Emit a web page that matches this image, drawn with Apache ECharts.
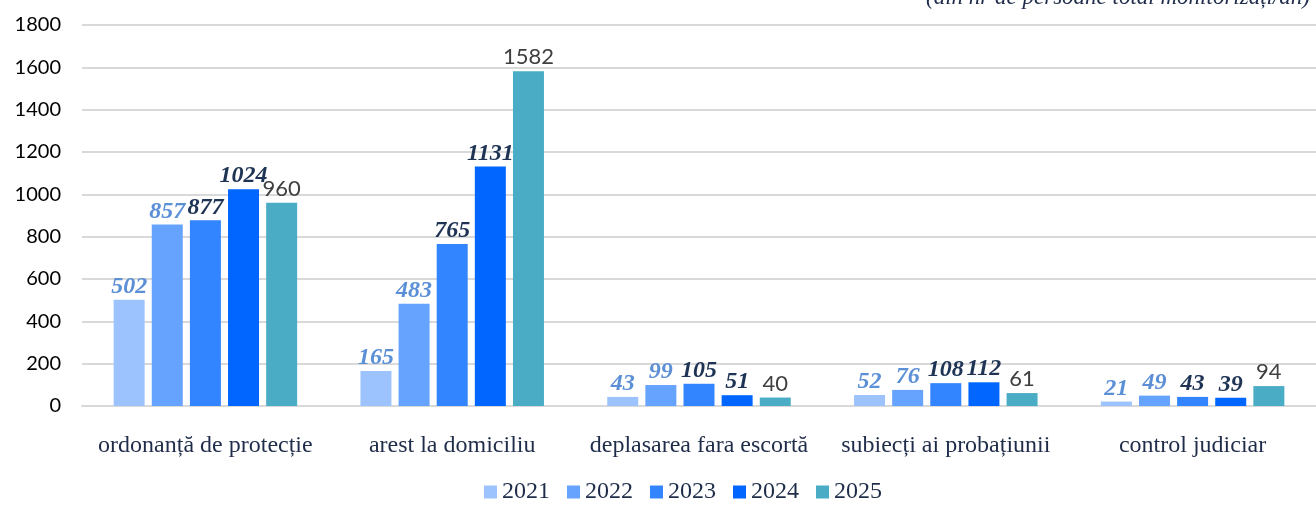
<!DOCTYPE html>
<html><head><meta charset="utf-8">
<script src="https://cdn.jsdelivr.net/npm/echarts@6/dist/echarts.min.js"></script>
<style>html,body{margin:0;padding:0;background:#fff}#c{width:1316px;height:505px}</style>
</head><body><div id="c"></div>
<script>
const categories = ['ordonanță de protecție','arest la domiciliu','deplasarea fara escortă','subiecți ai probațiunii','control judiciar'];
const years = ['2021','2022','2023','2024','2025'];
const v2021 = [502,165,43,52,21];
const v2022 = [857,483,99,76,49];
const v2023 = [877,765,105,108,43];
const v2024 = [1024,1131,51,112,39];
const v2025 = [960,1582,40,61,94];
const yTicks = [0,200,400,600,800,1000,1200,1400,1600,1800];

const colors = ['#9DC3FF','#66A3FF','#3385FF','#0066FF','#4BACC6'];
const serifItalic = (c)=>({show:true,position:'top',distance:1,fontFamily:'Liberation Serif',fontStyle:'italic',fontWeight:'bold',fontSize:24,color:c});
const labelStyles = [
  serifItalic('#5B8FD6'),
  serifItalic('#5B8FD6'),
  serifItalic('#1F3455'),
  serifItalic('#1F3455'),
  {show:true,position:'top',distance:3,fontFamily:'Lato',fontSize:22,color:'#404040'}
];
const data = [v2021,v2022,v2023,v2024,v2025];
const chart = echarts.init(document.getElementById('c'));
chart.setOption({
  animation:false,
  textStyle:{fontFamily:'Liberation Serif'},
  grid:{left:82,right:-4,top:25,bottom:99,containLabel:false},
  legend:{top:480,left:484,itemWidth:13,itemHeight:13,itemGap:17,icon:'rect',padding:0,
    textStyle:{fontFamily:'Liberation Serif',fontSize:24,color:'#1F2D4A'},data:years},
  graphic:[{type:'text',right:6,top:-14,style:{text:'(din nr de persoane total monitorizați/an)',
    font:'italic 23px "Liberation Serif"',fill:'#1F2D4A'}}],
  xAxis:{type:'category',data:categories,
    axisLine:{lineStyle:{color:'#D9D9D9',width:2}},axisTick:{show:false},
    axisLabel:{interval:0,margin:28,fontFamily:'Liberation Serif',fontSize:24,color:'#1F2D4A'}},
  yAxis:{type:'value',min:yTicks[0],max:yTicks[yTicks.length-1],interval:200,
    axisLine:{show:false},axisTick:{show:false},
    axisLabel:{margin:21,fontFamily:'Lato',fontSize:20,color:'#000',formatter:(v)=>String(v)},
    splitLine:{lineStyle:{color:'#D9D9D9',width:2}}},
  series: years.map((y,i)=>({name:y,type:'bar',data:data[i],barWidth:31,barGap:'23%',barCategoryGap:'26%',
    itemStyle:{color:colors[i]},label:labelStyles[i]}))
});
</script></body></html>
